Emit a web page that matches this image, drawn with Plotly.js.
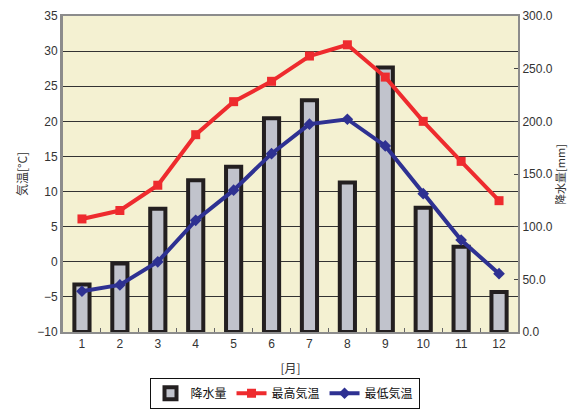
<!DOCTYPE html>
<html>
<head>
<meta charset="utf-8">
<script src="https://cdn.plot.ly/plotly-3.0.1.min.js"></script>
<style>html,body{margin:0;padding:0;background:#fff;}#chart{width:569px;height:410px;}</style>
</head>
<body>
<div id="chart"></div>
<script>
var months = ["1","2","3","4","5","6","7","8","9","10","11","12"];
var precipitation = [45, 65, 117, 144, 157, 203, 220, 142, 251, 118, 81, 38];
var highTemp = [6.1, 7.3, 10.9, 18.1, 22.8, 25.7, 29.3, 30.9, 26.3, 20.0, 14.3, 8.7];
var lowTemp = [-4.2, -3.3, 0.0, 5.9, 10.2, 15.4, 19.6, 20.3, 16.5, 9.7, 3.1, -1.7];
var leftTicks = [-10, -5, 0, 5, 10, 15, 20, 25, 30, 35];
var rightTicks = [0, 50, 100, 150, 200, 250, 300];

var font = "Liberation Sans, Arial, sans-serif";
var jfont = "Noto Sans CJK JP, sans-serif";

var traces = [
  {type: "bar", name: "降水量", x: months, y: precipitation, xaxis: "x", yaxis: "y",
   width: 0.4,
   marker: {color: "#c1c3cc", line: {color: "#231f20", width: 4}}},
  {type: "scatter", mode: "lines+markers", name: "最高気温", x: months, y: highTemp, xaxis: "x", yaxis: "y2",
   line: {color: "#ee2b2e", width: 4}, marker: {symbol: "square", size: 9, color: "#ee2b2e"}},
  {type: "scatter", mode: "lines+markers", name: "最低気温", x: months, y: lowTemp, xaxis: "x", yaxis: "y2",
   line: {color: "#2e3192", width: 4}, marker: {symbol: "diamond", size: 9, color: "#2e3192"}}
];

var layout = {
  width: 569, height: 410,
  margin: {l: 63, r: 51, t: 16, b: 78, autoexpand: false},
  paper_bgcolor: "#ffffff",
  plot_bgcolor: "#f4f1d2",
  showlegend: true,
  legend: {orientation: "h", x: 0.5, xref: "container", xanchor: "center",
           y: 0.003, yref: "container", yanchor: "bottom",
           bordercolor: "#111", borderwidth: 1, font: {family: jfont, size: 12, color: "#111"},
           tracegroupgap: 0, itemwidth: 30},
  xaxis: {type: "category", range: [-0.5, 11.5], showline: true, linecolor: "#8c8c8c", linewidth: 2, mirror: true,
          ticks: "inside", tickson: "boundaries", ticklen: 4, tickcolor: "#666", showgrid: false,
          tickfont: {family: font, size: 12, color: "#333"},
          title: {text: "[月]", font: {family: jfont, size: 12, color: "#333"}, standoff: 14}},
  yaxis: {side: "right", range: [0, 300], tickvals: rightTicks, tickformat: ".1f",
          showgrid: false, zeroline: false, showline: true, linecolor: "#8c8c8c", linewidth: 2,
          ticks: "inside", ticklen: 4, tickcolor: "#444",
          tickfont: {family: font, size: 12, color: "#333"}},
  yaxis2: {side: "left", overlaying: "y", range: [-10, 35], tickvals: leftTicks,
           showgrid: true, gridcolor: "#333", gridwidth: 1, zeroline: false,
           showline: true, linecolor: "#8c8c8c", linewidth: 3, ticks: "",
           tickfont: {family: font, size: 12, color: "#333"},
           title: {text: "気温[°C]", font: {family: jfont, size: 12, color: "#333"}, standoff: 8}},
  annotations: [
    {text: "降水量[mm]", xref: "paper", yref: "paper", x: 1.112, y: 0.5, xanchor: "right", yanchor: "middle",
     textangle: -90, showarrow: false, borderpad: 0, font: {family: jfont, size: 11, color: "#333"}}
  ]
};

Plotly.newPlot("chart", traces, layout, {displayModeBar: false, staticPlot: true});
</script>
</body>
</html>
